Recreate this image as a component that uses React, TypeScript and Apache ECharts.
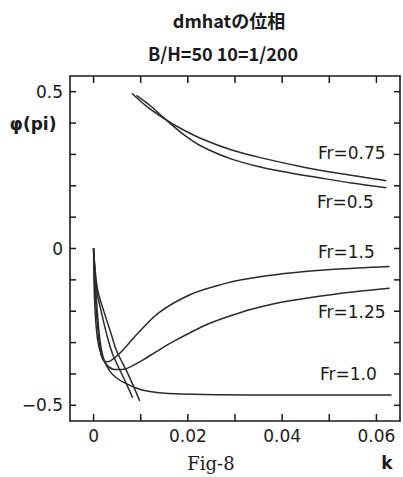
import React, { useEffect, useRef } from "react";
import * as echarts from "echarts";

const xTickValues = [0, 0.01, 0.02, 0.03, 0.04, 0.05, 0.06];
const xLabelValues = [0, 0.02, 0.04, 0.06];
const yTickValues = [-0.5, -0.4, -0.3, -0.2, -0.1, 0, 0.1, 0.2, 0.3, 0.4, 0.5];
const yLabelValues = [-0.5, 0, 0.5];

const X_MIN = -0.005;
const X_MAX = 0.065;
const Y_MIN = -0.55;
const Y_MAX = 0.55;

const fr050Lower: [number, number][] = [
  [0, 0], [0.0008, -0.127], [0.0023, -0.206], [0.0038, -0.276], [0.0049, -0.327], [0.0074, -0.403], [0.0098, -0.486],
];
const fr050Upper: [number, number][] = [
  [0.0091, 0.488], [0.0123, 0.452], [0.0148, 0.418], [0.0187, 0.368], [0.0229, 0.326], [0.0293, 0.285],
  [0.0356, 0.259], [0.042, 0.24], [0.0484, 0.224], [0.0547, 0.209], [0.0621, 0.194],
];
const fr075Lower: [number, number][] = [
  [0, 0], [0.0006, -0.127], [0.0017, -0.206], [0.003, -0.286], [0.0042, -0.343], [0.0064, -0.413], [0.0083, -0.476],
];
const fr075Upper: [number, number][] = [
  [0.0081, 0.495], [0.0112, 0.454], [0.0148, 0.416], [0.0187, 0.381], [0.0229, 0.35], [0.0293, 0.314],
  [0.0356, 0.289], [0.0441, 0.261], [0.0526, 0.238], [0.0621, 0.216],
];
const fr100: [number, number][] = [
  [0, 0], [0.0006, -0.16], [0.0013, -0.286], [0.0021, -0.35], [0.0034, -0.39], [0.0049, -0.413], [0.0064, -0.427],
  [0.0098, -0.449], [0.0134, -0.459], [0.0187, -0.464], [0.0335, -0.467], [0.0484, -0.467], [0.0632, -0.467],
];
const fr125: [number, number][] = [
  [0, 0], [0.0004, -0.16], [0.0011, -0.286], [0.0017, -0.343], [0.0028, -0.371], [0.0045, -0.386], [0.0064, -0.385],
  [0.0085, -0.372], [0.0105, -0.355], [0.0134, -0.328], [0.0165, -0.3], [0.0244, -0.24], [0.0314, -0.203],
  [0.0378, -0.178], [0.042, -0.166], [0.0526, -0.143], [0.0628, -0.127],
];
const fr150: [number, number][] = [
  [0, 0], [0.0002, -0.16], [0.0008, -0.286], [0.0017, -0.343], [0.0026, -0.361], [0.0036, -0.358], [0.0055, -0.335],
  [0.0091, -0.275], [0.0138, -0.205], [0.0208, -0.145], [0.0278, -0.112], [0.0314, -0.1], [0.0405, -0.08],
  [0.0511, -0.066], [0.0628, -0.057],
];

const curveLabels = [
  { text: "Fr=0.75", x: 318, y: 153 },
  { text: "Fr=0.5", x: 317, y: 202 },
  { text: "Fr=1.5", x: 318, y: 252 },
  { text: "Fr=1.25", x: 318, y: 312 },
  { text: "Fr=1.0", x: 320, y: 374 },
];

const INK = "#1a1a1a";

export default function App() {
  const ref = useRef<HTMLDivElement>(null);
  useEffect(() => {
    document.body.style.margin = "0";
    const chart = echarts.init(ref.current!, null, { renderer: "svg" });
    const lineSeries = (data: [number, number][]) => ({
      type: "line",
      data,
      showSymbol: false,
      smooth: 0.3,
      lineStyle: { color: "#2b2b2b", width: 1.5 },
      silent: true,
    });
    const axisBase = {
      type: "value",
      axisLine: { show: true, onZero: false, lineStyle: { color: INK, width: 1.6 } },
      axisTick: { show: false },
      splitLine: { show: false },
    };
    chart.setOption({
      animation: false,
      backgroundColor: "#ffffff",
      grid: { left: 70, right: 3, top: 76, bottom: 56 },
      xAxis: [
        {
          ...axisBase,
          min: X_MIN,
          max: X_MAX,
          position: "bottom",
          axisLabel: {
            customValues: xLabelValues,
            formatter: (v: number) => (v === 0 ? "0" : String(v)),
            color: INK,
            fontSize: 17,
            fontFamily: "DejaVu Sans",
            margin: 6,
          },
        },
        { ...axisBase, min: X_MIN, max: X_MAX, position: "top", axisLabel: { show: false } },
      ],
      yAxis: [
        {
          ...axisBase,
          min: Y_MIN,
          max: Y_MAX,
          position: "left",
          axisLabel: {
            customValues: yLabelValues,
            formatter: (v: number) => (v === 0 ? "0" : v < 0 ? "\u2212" + String(-v) : String(v)),
            color: INK,
            fontSize: 17,
            fontFamily: "DejaVu Sans",
            margin: 7,
          },
        },
        { ...axisBase, min: Y_MIN, max: Y_MAX, position: "right", axisLabel: { show: false } },
      ],
      series: [
        lineSeries(fr050Lower),
        lineSeries(fr050Upper),
        lineSeries(fr075Lower),
        lineSeries(fr075Upper),
        lineSeries(fr100),
        lineSeries(fr125),
        lineSeries(fr150),
      ],
    });

    const px = (p: [number, number]) => chart.convertToPixel({ xAxisIndex: 0, yAxisIndex: 0 }, p) as number[];
    const tickStyle = { stroke: INK, lineWidth: 1.5 };
    const ticks: any[] = [];
    xTickValues.forEach((v) => {
      const b = px([v, Y_MIN]);
      const t = px([v, Y_MAX]);
      ticks.push({ type: "line", silent: true, z: 10, shape: { x1: b[0], y1: b[1], x2: b[0], y2: b[1] - 7 }, style: tickStyle });
      ticks.push({ type: "line", silent: true, z: 10, shape: { x1: t[0], y1: t[1], x2: t[0], y2: t[1] + 7 }, style: tickStyle });
    });
    yTickValues.forEach((v) => {
      const l = px([X_MIN, v]);
      const r = px([X_MAX, v]);
      ticks.push({ type: "line", silent: true, z: 10, shape: { x1: l[0], y1: l[1], x2: l[0] + 6, y2: l[1] }, style: tickStyle });
      ticks.push({ type: "line", silent: true, z: 10, shape: { x1: r[0], y1: r[1], x2: r[0] - 6, y2: r[1] }, style: tickStyle });
    });

    chart.setOption({
      graphic: [
        ...ticks,
        {
          type: "text", x: 229, y: 20,
          style: { text: "dmhatの位相", fill: INK, font: 'bold 18px "Noto Sans CJK JP"', textAlign: "center", textVerticalAlign: "middle" },
        },
        {
          type: "text", x: 223, y: 53,
          style: { text: "B/H=50 10=1/200", fill: INK, font: 'bold 18px "Noto Sans CJK JP"', textAlign: "center", textVerticalAlign: "middle" },
        },
        {
          type: "text", x: 33, y: 124,
          style: { text: "φ(pi)", fill: INK, font: 'bold 17px "DejaVu Sans"', textAlign: "center", textVerticalAlign: "middle" },
        },
        ...curveLabels.map((l) => ({
          type: "text", x: l.x, y: l.y,
          style: { text: l.text, fill: INK, font: '17px "DejaVu Sans"', textAlign: "left", textVerticalAlign: "middle" },
        })),
        {
          type: "text", x: 211, y: 463,
          style: { text: "Fig-8", fill: INK, font: '18px "DejaVu Serif"', textAlign: "center", textVerticalAlign: "middle" },
        },
        {
          type: "text", x: 387, y: 463,
          style: { text: "k", fill: INK, font: 'bold 17px "DejaVu Sans"', textAlign: "center", textVerticalAlign: "middle" },
        },
      ],
    });
    return () => chart.dispose();
  }, []);
  return <div ref={ref} style={{ width: 403, height: 477 }} />;
}
